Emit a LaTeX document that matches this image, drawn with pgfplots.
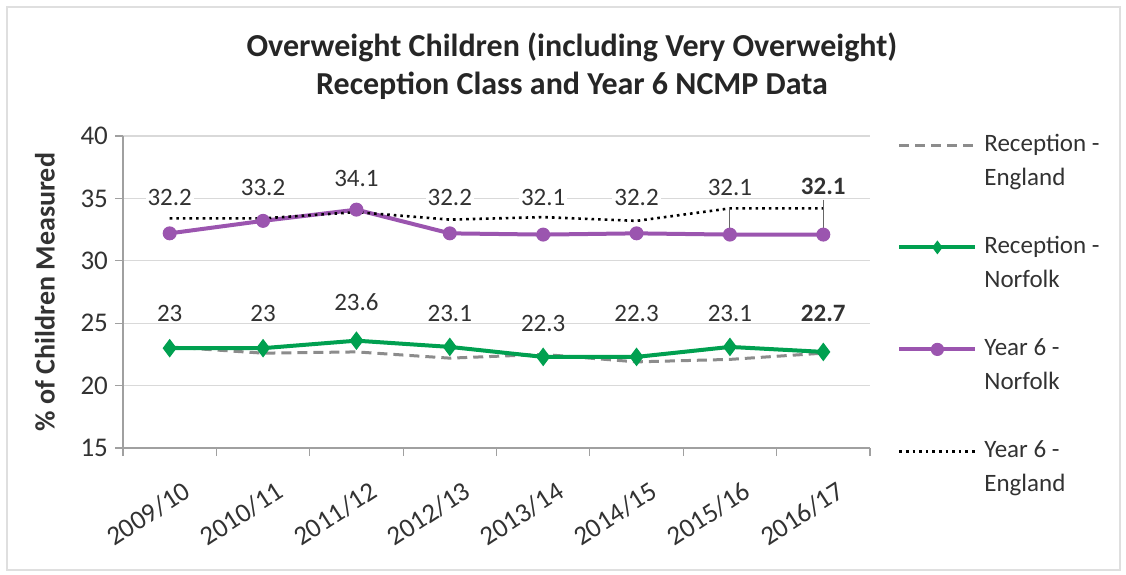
\documentclass[border=0pt]{standalone}
\usepackage{fontspec}
\setmainfont{Carlito}
\usepackage{pgfplots}
\pgfplotsset{compat=1.18}
\definecolor{rgreen}{RGB}{0,160,80}
\definecolor{ypurple}{RGB}{155,85,175}
\definecolor{rgray}{RGB}{140,140,140}
\definecolor{txt}{RGB}{50,50,50}
\definecolor{gridc}{RGB}{217,217,217}
\definecolor{axc}{RGB}{160,160,160}
\newcommand\fs{\fontsize{12.5}{15}\selectfont}
\newcommand\ft{\fontsize{13.5}{16}\selectfont}
\begin{document}
\begin{tikzpicture}
\useasboundingbox (-61.5pt,-63pt) rectangle (501.5pt,224pt);
\draw[gray!25, line width=0.8pt] (-58pt,-61pt) rectangle (498.5pt,220.5pt);
\node[font=\bfseries\fontsize{16}{19}\selectfont, align=center, text=black!85] at (224.5pt,191pt)
  {Overweight Children (including Very Overweight)\\Reception Class and Year 6 NCMP Data};
\begin{axis}[
  scale only axis, width=373.5pt, height=156pt,
  xmin=-0.5, xmax=7.5, ymin=15, ymax=40,
  ytick={15,20,...,40},
  xtick={-0.5,0.5,...,7.5},
  x tick label as interval,
  xticklabels={2009/10,2010/11,2011/12,2012/13,2013/14,2014/15,2015/16,2016/17},
  axis lines*=left,
  tick align=outside,
  major tick length=4pt,
  ymajorgrids,
  grid style={gridc, line width=0.6pt},
  axis line style={axc, line width=0.6pt},
  tick style={axc, line width=0.6pt},
  /pgf/number format/assume math mode=true,
  ticklabel style={font=\ft, text=txt},
  xticklabel style={rotate=33, anchor=north east, xshift=2pt, yshift=-10pt},
  every axis y label/.style={at={(axis description cs:0,0.5)}, xshift=-39pt, rotate=90, anchor=center, font=\bfseries\fontsize{14}{16}\selectfont, text=txt},
  ylabel={\% of Children Measured},
  clip=false,
  legend style={at={(1,1)}, anchor=north west, xshift=13.5pt, yshift=1.5pt, draw=none, fill=none,
    font=\fs, text=txt, row sep=5pt, column sep=3.5pt, inner sep=0pt,
    nodes={inner sep=0pt, text height=9pt, text depth=3pt}},
  legend cell align=left,
  legend image code/.code={\draw[mark repeat=2,mark phase=2,#1,mark size=3pt] plot coordinates {(0pt,0pt) (19pt,0pt) (38pt,0pt)};},
]
\addplot[rgray, dashed, dash pattern=on 5pt off 3pt, line width=1.5pt, mark=none] coordinates {
 (0,23.1) (1,22.6) (2,22.7) (3,22.2) (4,22.5) (5,21.9) (6,22.1) (7,22.6)};
\addlegendentry{Reception -}
\addlegendimage{empty legend}\addlegendentry{England}
\addlegendimage{empty legend}\addlegendentry{\strut}
\addplot[rgreen, line width=2pt, mark=diamond*, mark size=4.2pt, mark options={solid, line width=0.6pt}] coordinates {
 (0,23) (1,23) (2,23.6) (3,23.1) (4,22.3) (5,22.3) (6,23.1) (7,22.7)};
\addlegendentry{Reception -}
\addlegendimage{empty legend}\addlegendentry{Norfolk}
\addlegendimage{empty legend}\addlegendentry{\strut}
\addplot[ypurple, line width=2pt, mark=*, mark size=3.2pt, mark options={line width=0.6pt}] coordinates {
 (0,32.2) (1,33.2) (2,34.1) (3,32.2) (4,32.1) (5,32.2) (6,32.1) (7,32.1)};
\addlegendentry{Year 6 -}
\addlegendimage{empty legend}\addlegendentry{Norfolk}
\addlegendimage{empty legend}\addlegendentry{\strut}
\addplot[black, dotted, line width=1.3pt, mark=none] coordinates {
 (0,33.4) (1,33.4) (2,33.9) (3,33.3) (4,33.5) (5,33.2) (6,34.2) (7,34.2)};
\addlegendentry{Year 6 -}
\addlegendimage{empty legend}\addlegendentry{England}
% leader lines
\addplot[gray!80!black, line width=0.5pt, forget plot] coordinates {(6,34.3) (6,32.3)};
\addplot[gray!80!black, line width=0.5pt, forget plot] coordinates {(7,34.9) (7,32.3)};
% data labels
\addplot[draw=none, mark=none, forget plot, nodes near coords, point meta=explicit symbolic,
  nodes near coords align={center}, every node near coord/.append style={font=\fs, text=txt, fill=white, inner sep=1pt}]
 coordinates {(0,35.1)[32.2] (1,35.9)[33.2] (2,36.6)[34.1] (3,35.1)[32.2] (4,35.1)[32.1] (5,35.1)[32.2] (6,35.9)[32.1] (7,36.0)[\textbf{32.1}]};
\addplot[draw=none, mark=none, forget plot, nodes near coords, point meta=explicit symbolic,
  nodes near coords align={center}, every node near coord/.append style={font=\fs, text=txt}]
 coordinates {(0,25.8)[23] (1,25.8)[23] (2,26.7)[23.6] (3,25.8)[23.1] (4,25.0)[22.3] (5,25.8)[22.3] (6,25.8)[23.1] (7,25.8)[\textbf{22.7}]};
\end{axis}
\end{tikzpicture}
\end{document}
